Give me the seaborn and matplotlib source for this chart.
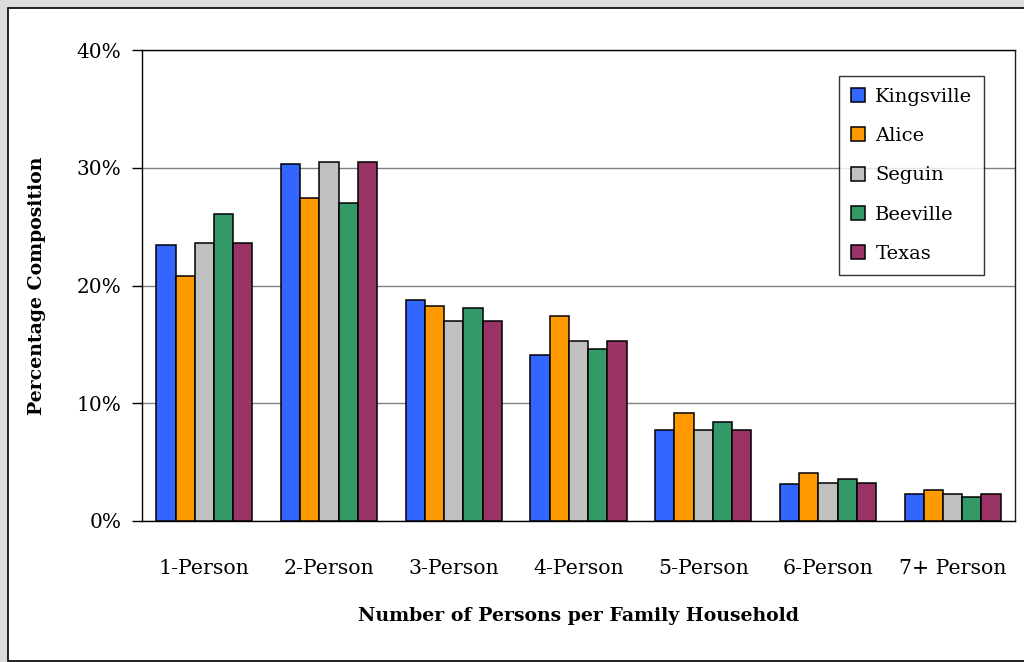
import numpy as np
import pandas as pd
import matplotlib
matplotlib.use("Agg")
import matplotlib.pyplot as plt
from matplotlib.patches import Rectangle
from matplotlib.ticker import FuncFormatter, FixedLocator
import seaborn as sns

# Data (percent)
categories = ["1-Person", "2-Person", "3-Person", "4-Person", "5-Person", "6-Person", "7+ Person"]
places = ["Kingsville", "Alice", "Seguin", "Beeville", "Texas"]
kingsville = [23.4, 30.3, 18.8, 14.1, 7.7, 3.1, 2.3]
alice = [20.8, 27.4, 18.3, 17.4, 9.2, 4.1, 2.6]
seguin = [23.6, 30.5, 17.0, 15.3, 7.7, 3.2, 2.3]
beeville = [26.1, 27.0, 18.1, 14.6, 8.4, 3.6, 2.0]
texas = [23.6, 30.5, 17.0, 15.3, 7.7, 3.2, 2.3]
colors = ["#3366FF", "#FF9900", "#C0C0C0", "#339966", "#993366"]

df = pd.DataFrame({
    "category": categories * len(places),
    "place": np.repeat(places, len(categories)),
    "value": kingsville + alice + seguin + beeville + texas,
})

sns.set_style("white")
plt.rcParams["font.family"] = ["DejaVu Serif"]
plt.rcParams["text.color"] = "black"
plt.rcParams["axes.labelcolor"] = "black"
plt.rcParams["xtick.color"] = "black"
plt.rcParams["ytick.color"] = "black"

fig = plt.figure(figsize=(10.24, 6.62), dpi=100)
fig.patch.set_facecolor("#dcdcdc")
# white chart frame
fig.patches.append(Rectangle((8 / 1024, 1.5 / 662), 1.05, (662 - 8 - 1.5) / 662,
                             transform=fig.transFigure, facecolor="white",
                             edgecolor="black", linewidth=1.2, zorder=-5))

ax = fig.add_axes([142 / 1024, 1 - 521 / 662, (1015 - 142) / 1024, (521 - 50) / 662])
ax.set_zorder(2)
ax.set_facecolor("white")

sns.barplot(data=df, x="category", y="value", hue="place", order=categories,
            hue_order=places, palette=colors, width=0.77, edgecolor="black",
            linewidth=1.1, saturation=1, ax=ax, zorder=3)

ax.set_ylim(0, 40)
ax.set_xlim(-0.5, len(categories) - 0.5)
ax.set_yticks([0, 10, 20, 30, 40])
ax.yaxis.set_major_formatter(FuncFormatter(lambda v, p: f"{v:.0f}%"))
ax.yaxis.grid(True, color="#808080", linewidth=1.0, zorder=0)
ax.set_axisbelow(True)

# ticks between categories on the x axis
ax.xaxis.set_major_locator(FixedLocator(np.arange(len(categories))))
ax.set_xticklabels(categories)
ax.xaxis.set_minor_locator(FixedLocator(np.arange(len(categories) + 1) - 0.5))
ax.tick_params(axis="x", which="major", length=0, pad=27, labelsize=14.8)
ax.tick_params(axis="x", which="minor", length=7, width=1, color="black", direction="out")
ax.tick_params(axis="y", length=7, width=1, color="black", direction="out",
               labelsize=14.5, pad=8, left=True)

for side in ["left", "bottom", "top", "right"]:
    ax.spines[side].set_visible(True)
    ax.spines[side].set_color("black")
    ax.spines[side].set_linewidth(1.0)
ax.spines["right"].set_color("#202020")

ax.set_xlabel("Number of Persons per Family Household", fontsize=13.6,
              fontweight="bold", labelpad=21)
ax.set_ylabel("Percentage Composition", fontsize=13.6, fontweight="bold", labelpad=22)

leg = ax.legend(loc="upper left", bbox_to_anchor=((839 - 142) / 873, (521 - 76) / 471),
                frameon=True, fancybox=False, fontsize=14.0, handlelength=0.72,
                handleheight=0.72, handletextpad=0.55, labelspacing=1.1,
                borderpad=0.6, borderaxespad=0)
leg.get_frame().set_edgecolor("black")
leg.get_frame().set_linewidth(1.0)
for h in leg.legend_handles:
    h.set_edgecolor("black")
    h.set_linewidth(1.1)

fig.savefig("out.png", dpi=100, facecolor=fig.get_facecolor())
